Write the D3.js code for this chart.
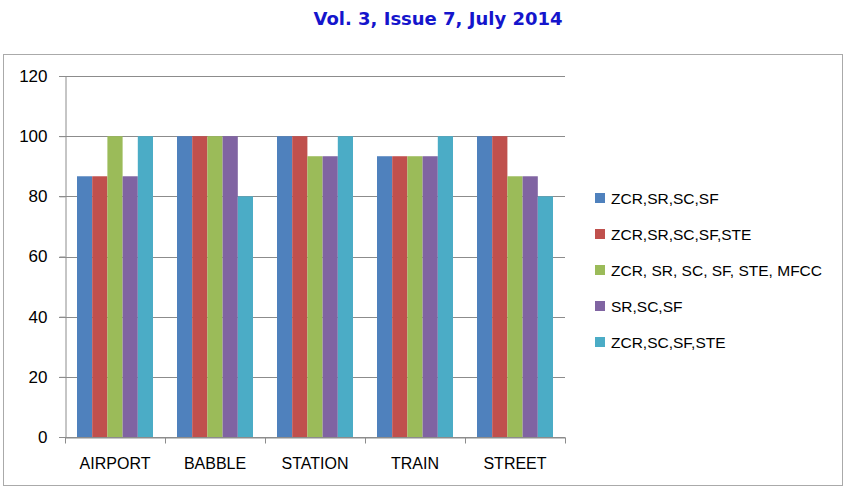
<!DOCTYPE html>
<html>
<head>
<meta charset="utf-8">
<script src="https://cdn.jsdelivr.net/npm/d3@7"></script>
<style>
  body { margin: 0; background: #fff; }
</style>
</head>
<body>
<div id="chart"></div>
<script>
// chart data
const categories = ["AIRPORT", "BABBLE", "STATION", "TRAIN", "STREET"];
const seriesNames = ["ZCR,SR,SC,SF", "ZCR,SR,SC,SF,STE", "ZCR, SR, SC, SF, STE, MFCC", "SR,SC,SF", "ZCR,SC,SF,STE"];
const seriesValues = [
  [86.67, 100, 100, 93.33, 100],
  [86.67, 100, 100, 93.33, 100],
  [100, 100, 93.33, 93.33, 86.67],
  [86.67, 100, 93.33, 93.33, 86.67],
  [100, 80, 100, 100, 80]
];
const yTicks = [0, 20, 40, 60, 80, 100, 120];
const colors = ["#4F81BD", "#C0504D", "#9BBB59", "#8064A2", "#4BACC6"];

const width = 849;
const height = 490;
const margin = { left: 65, right: 284, top: 76, bottom: 53 };

const svg = d3.select("#chart")
  .append("svg")
  .attr("width", width)
  .attr("height", height);

// header line
svg.append("text")
  .attr("x", 438)
  .attr("y", 25)
  .attr("text-anchor", "middle")
  .style("font-family", "DejaVu Sans, Verdana, sans-serif")
  .style("font-weight", "bold")
  .style("font-size", "18px")
  .style("fill", "#1515CC")
  .text("Vol. 3, Issue 7, July 2014");

// chart frame
svg.append("rect")
  .attr("x", 3.5)
  .attr("y", 54.5)
  .attr("width", 839)
  .attr("height", 431)
  .attr("fill", "#fff")
  .attr("stroke", "#aaa")
  .attr("stroke-width", 1);

const x0 = d3.scaleBand()
  .domain(categories)
  .range([margin.left, width - margin.right])
  .paddingInner(0.24)
  .paddingOuter(0.12);

const x1 = d3.scaleBand()
  .domain(seriesNames)
  .range([0, x0.bandwidth()]);

const y = d3.scaleLinear()
  .domain([0, 120])
  .range([height - margin.bottom, margin.top]);

// gridlines
svg.append("g")
  .selectAll("line")
  .data(yTicks)
  .join("line")
  .attr("x1", margin.left - 6)
  .attr("x2", width - margin.right)
  .attr("y1", d => Math.round(y(d)) + 0.5)
  .attr("y2", d => Math.round(y(d)) + 0.5)
  .attr("stroke", "#8c8c8c")
  .attr("stroke-width", 1);

// bars
const groups = svg.append("g")
  .selectAll("g")
  .data(categories)
  .join("g")
  .attr("transform", d => `translate(${x0(d)},0)`);

groups.selectAll("rect")
  .data((d, i) => seriesNames.map((s, j) => ({ s: s, j: j, v: seriesValues[j][i] })))
  .join("rect")
  .attr("x", d => x1(d.s))
  .attr("width", x1.bandwidth())
  .attr("y", d => y(d.v))
  .attr("height", d => y(0) - y(d.v))
  .attr("fill", d => colors[d.j]);

// y axis
const yAxis = svg.append("g")
  .attr("transform", `translate(${margin.left + 0.5},0)`)
  .call(d3.axisLeft(y).tickValues(yTicks).tickSize(6).tickPadding(12));

// x axis
const catWidth = (width - margin.right - margin.left) / categories.length;
const xAxis = svg.append("g")
  .attr("transform", `translate(0,${Math.round(y(0)) + 0.5})`)
  .call(d3.axisBottom(x0).tickSize(0).tickPadding(20));

xAxis.selectAll(".cat-tick")
  .data(d3.range(categories.length + 1))
  .join("line")
  .attr("class", "cat-tick")
  .attr("x1", d => margin.left + 0.5 + d * catWidth)
  .attr("x2", d => margin.left + 0.5 + d * catWidth)
  .attr("y1", 0)
  .attr("y2", 6)
  .attr("stroke", "#8c8c8c");

[yAxis, xAxis].forEach(ax => {
  ax.select(".domain").attr("stroke", "#8c8c8c");
  ax.selectAll(".tick line").attr("stroke", "#8c8c8c");
  ax.selectAll("text")
    .style("font-family", "Liberation Sans, Arial, sans-serif")
    .style("font-size", "16px")
    .style("fill", "#000");
});
yAxis.selectAll("text").style("font-size", "17px");

// legend
const legend = svg.append("g")
  .attr("transform", "translate(595,198)");

const items = legend.selectAll("g")
  .data(seriesNames)
  .join("g")
  .attr("transform", (d, i) => `translate(0,${i * 36})`);

items.append("rect")
  .attr("x", 0)
  .attr("y", -5)
  .attr("width", 10)
  .attr("height", 10)
  .attr("fill", (d, i) => colors[i]);

items.append("text")
  .attr("x", 16)
  .attr("y", 6)
  .style("font-family", "Liberation Sans, Arial, sans-serif")
  .style("font-size", "15.5px")
  .style("fill", "#000")
  .text(d => d);
</script>
</body>
</html>
